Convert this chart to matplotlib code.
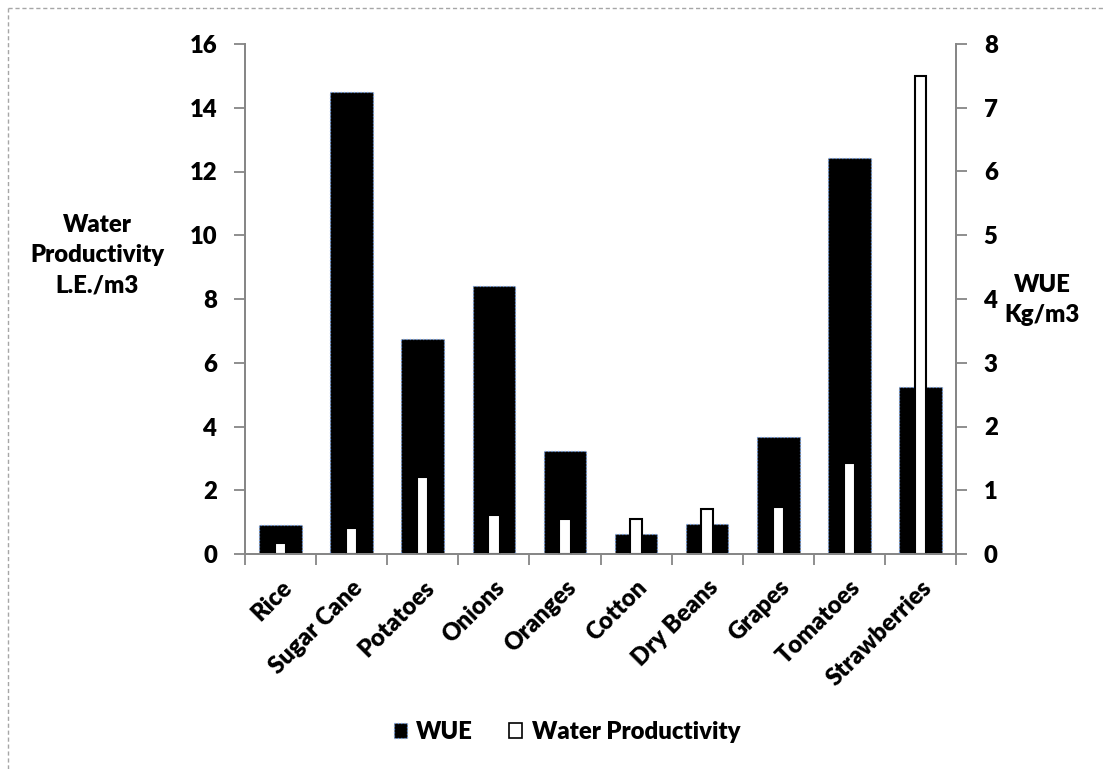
import matplotlib
matplotlib.use("Agg")
from matplotlib import pyplot as plt
from matplotlib.patches import Patch
from matplotlib.lines import Line2D
from matplotlib.transforms import ScaledTranslation
import numpy as np

crops = ["Rice", "Sugar Cane", "Potatoes", "Onions", "Oranges",
         "Cotton", "Dry Beans", "Grapes", "Tomatoes", "Strawberries"]
wue = [0.46, 7.24, 3.37, 4.21, 1.61, 0.31, 0.47, 1.83, 6.21, 2.62]          # Kg/m3
water_prod = [0.34, 0.82, 2.42, 1.21, 1.10, 1.11, 1.42, 1.47, 2.87, 15.0]  # L.E./m3

plt.rcParams['font.family'] = ['Lato', 'DejaVu Sans']
plt.rcParams['font.weight'] = 'heavy'
fs = 17.2

gray = '#868686'
W, H = 1105, 769

fig = plt.figure(figsize=(W / 100, H / 100), dpi=100)
ax = fig.add_axes([245 / W, 1 - 554 / H, 711 / W, 510 / H])
ax2 = ax.twinx()

x = np.arange(len(crops))

# WUE on the secondary axis, wide black bars
ax2.bar(x, wue, width=0.6, color='black', edgecolor='#6d9eeb',
        linestyle=':', linewidth=0.9)
# water productivity on the primary axis, narrow white bars drawn on top
ax.bar(x, water_prod, width=0.16, color='white', edgecolor='black', linewidth=1.5)
ax.set_zorder(ax2.get_zorder() + 1)
ax.patch.set_visible(False)

ax.set_xlim(-0.5, len(crops) - 0.5)
ax.set_ylim(0, 16)
ax2.set_ylim(0, 8)
ax.set_yticks(range(0, 17, 2))
ax2.set_yticks(range(0, 9))

# ticks between categories, labels at the centres
ax.set_xticks(np.arange(-0.5, len(crops), 1))
ax.set_xticklabels([])
ax.set_xticks(x, minor=True)
ax.set_xticklabels(crops, minor=True, rotation=45, ha='right', va='top',
                   rotation_mode='anchor', fontsize=fs)
shift = ScaledTranslation(-5 / 100, 0, fig.dpi_scale_trans)
for lbl in ax.get_xticklabels(minor=True):
    lbl.set_transform(lbl.get_transform() + shift)
ax.tick_params(axis='x', which='minor', length=0, pad=16)
ax.tick_params(axis='x', which='major', length=8, width=1.3, color=gray, direction='out')
ax.tick_params(axis='y', length=8, width=1.3, color=gray, direction='out', pad=12, labelsize=fs)
ax2.tick_params(axis='y', length=8, width=1.3, color=gray, direction='out', pad=12, labelsize=fs)

for a in (ax, ax2):
    a.spines['top'].set_visible(False)
    for s in ('left', 'right', 'bottom'):
        a.spines[s].set_color(gray)
        a.spines[s].set_linewidth(1.3)

fig.text(97 / W, 1 - 255 / H, "Water\nProductivity\nL.E./m3", ha='center', va='center',
         fontsize=fs, linespacing=1.45)
fig.text(1042 / W, 1 - 300 / H, "WUE\nKg/m3", ha='center', va='center',
         fontsize=fs, linespacing=1.4)

handles = [Patch(facecolor='black', edgecolor='#6d9eeb', linestyle=':', linewidth=0.9),
           Patch(facecolor='white', edgecolor='black', linewidth=1.2)]
fig.legend(handles, ["WUE", "Water Productivity"], loc='center',
           bbox_to_anchor=(567 / W, 1 - 732 / H), ncol=2, frameon=False,
           handlelength=0.55, handleheight=0.55, handletextpad=0.4,
           columnspacing=1.5, fontsize=fs)

# dashed frame along the top and left edges
frame = dict(color='#a6a6a6', linestyle=(0, (3, 2)), linewidth=1.0, transform=fig.transFigure)
fig.add_artist(Line2D([8 / W, 8 / W], [0, 1 - 8 / H], **frame))
fig.add_artist(Line2D([8 / W, 1], [1 - 8 / H, 1 - 8 / H], **frame))

fig.savefig("out.png", dpi=100)
